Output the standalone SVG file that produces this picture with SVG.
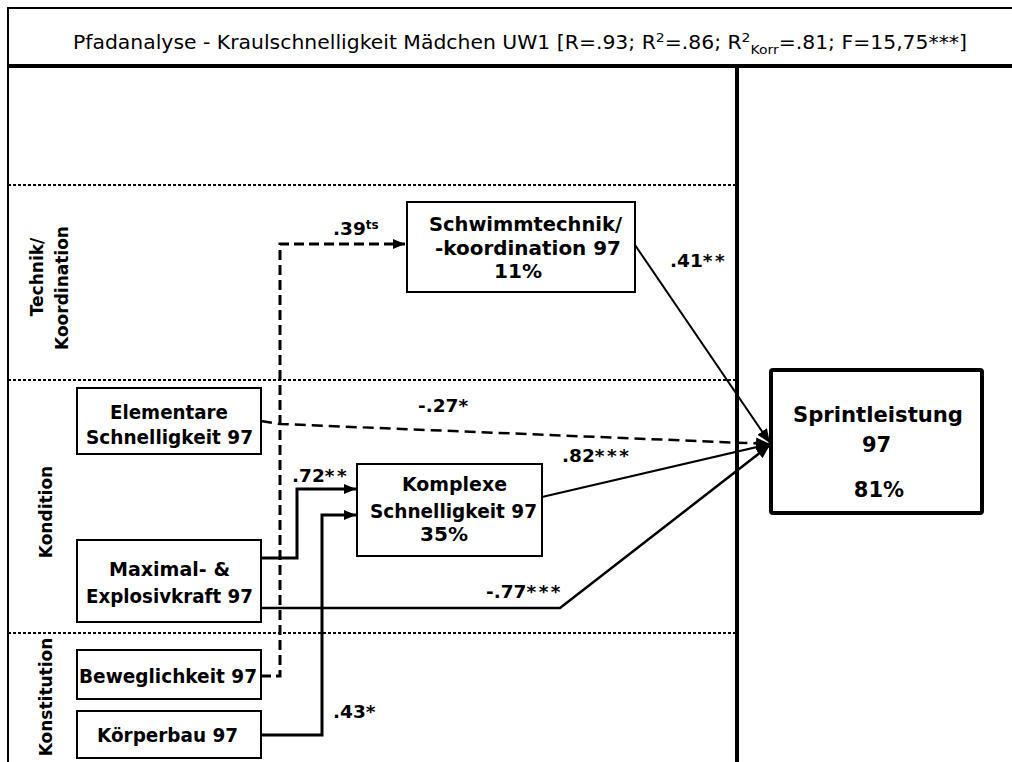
<svg xmlns="http://www.w3.org/2000/svg" width="1012" height="762" viewBox="0 0 1012 762">
<defs>
<marker id="ah" viewBox="0 0 12 10" refX="12" refY="5" markerWidth="12" markerHeight="10" markerUnits="userSpaceOnUse" orient="auto">
<path d="M0,0 L12,5 L0,10 z" fill="#000"/>
</marker>
<marker id="ahs" viewBox="0 0 12 10" refX="12" refY="5" markerWidth="14" markerHeight="12" markerUnits="userSpaceOnUse" orient="auto">
<path d="M0,0 L12,5 L0,10 z" fill="#000"/>
</marker>
</defs>
<style>
.frame{fill:none;stroke:#000}
.dot{stroke:#000;stroke-width:2;stroke-dasharray:3 2;fill:none}
.box{fill:#fff;stroke:#000;stroke-width:2}
.nt{font-family:"DejaVu Sans",Verdana,sans-serif;font-weight:bold;font-size:19.5px;fill:#000;text-anchor:middle}
.lab{font-family:"DejaVu Sans",Verdana,sans-serif;font-weight:bold;font-size:18.5px;fill:#000}
.st{letter-spacing:2.5px}
.vt{font-family:"DejaVu Sans",Verdana,sans-serif;font-weight:bold;font-size:17px;fill:#000;text-anchor:middle}
.c{fill:none;stroke:#000}
</style>
<rect x="0" y="0" width="1012" height="762" fill="#fff"/>
<g id="frame">
<line class="frame" x1="8" y1="8" x2="1012" y2="8" stroke-width="2"/>
<line class="frame" x1="8" y1="7" x2="8" y2="762" stroke-width="2"/>
<line class="frame" x1="8" y1="66" x2="1012" y2="66" stroke-width="4"/>
<line class="frame" x1="737" y1="66" x2="737" y2="762" stroke-width="4"/>
<line class="dot" x1="8" y1="185" x2="735" y2="185"/>
<line class="dot" x1="8" y1="380" x2="735" y2="380"/>
<line class="dot" x1="8" y1="633" x2="735" y2="633"/>
<text x="73" y="49" textLength="894" lengthAdjust="spacingAndGlyphs" font-family="DejaVu Sans,Verdana,sans-serif" font-size="19" fill="#000">Pfadanalyse - Kraulschnelligkeit Mädchen UW1 [R=.93; R<tspan font-size="13" dy="-7">2</tspan><tspan dy="7">=.86; R</tspan><tspan font-size="13" dy="-7">2</tspan><tspan font-size="13" dy="12">Korr</tspan><tspan dy="-5">=.81; F=15,75***]</tspan></text>
</g>
<g id="section-labels">
<text class="vt" transform="translate(43,277) rotate(-90)">Technik/</text>
<text class="vt" transform="translate(68,288) rotate(-90)">Koordination</text>
<text class="vt" transform="translate(52,512) rotate(-90)">Kondition</text>
<text class="vt" transform="translate(52,697) rotate(-90)">Konstitution</text>
</g>
<g id="connectors">
<polyline class="c" points="261,676 280,676 280,244 405,244" stroke-width="3" stroke-dasharray="10 5" marker-end="url(#ah)"/>
<line class="c" x1="635" y1="245" x2="770" y2="443" stroke-width="2" marker-end="url(#ahs)"/>
<polyline class="c" points="261,421 280,424 770,444" stroke-width="2.5" stroke-dasharray="11 6" marker-end="url(#ahs)"/>
<polyline class="c" points="261,558 297,558 297,489 356,489" stroke-width="3" marker-end="url(#ah)"/>
<polyline class="c" points="261,735 322,735 322,515 356,515" stroke-width="3" marker-end="url(#ah)"/>
<line class="c" x1="542" y1="497" x2="770" y2="444" stroke-width="2" marker-end="url(#ahs)"/>
<polyline class="c" points="261,608 560,608 770,445" stroke-width="2.5" marker-end="url(#ahs)"/>
<text class="lab" x="333" y="235">.39<tspan font-size="12" dy="-6">ts</tspan></text>
<text class="lab" x="670" y="267">.41<tspan class="st">**</tspan></text>
<text class="lab" x="418" y="412">-.27*</text>
<text class="lab" x="292" y="482">.72<tspan class="st">**</tspan></text>
<text class="lab" x="562" y="462">.82<tspan class="st">***</tspan></text>
<text class="lab" x="486" y="598">-.77<tspan class="st">***</tspan></text>
<text class="lab" x="333" y="718">.43*</text>
</g>
<g id="node-schwimmtechnik">
<rect class="box" x="407" y="202" width="228" height="90"/>
<text class="nt" x="525.5" y="231" textLength="193" lengthAdjust="spacingAndGlyphs">Schwimmtechnik/</text>
<text class="nt" x="528" y="255" textLength="186" lengthAdjust="spacingAndGlyphs">-koordination 97</text>
<text class="nt" x="518" y="278" textLength="48" lengthAdjust="spacingAndGlyphs">11%</text>
</g>
<g id="node-elementare">
<rect class="box" x="77" y="388" width="184" height="66"/>
<text class="nt" x="169" y="419" textLength="118" lengthAdjust="spacingAndGlyphs">Elementare</text>
<text class="nt" x="169.5" y="444" textLength="167" lengthAdjust="spacingAndGlyphs">Schnelligkeit 97</text>
</g>
<g id="node-komplexe">
<rect class="box" x="357" y="464" width="185" height="92"/>
<text class="nt" x="454.5" y="491" textLength="105" lengthAdjust="spacingAndGlyphs">Komplexe</text>
<text class="nt" x="453.5" y="518" textLength="167" lengthAdjust="spacingAndGlyphs">Schnelligkeit 97</text>
<text class="nt" x="444" y="541" textLength="48" lengthAdjust="spacingAndGlyphs">35%</text>
</g>
<g id="node-maximal">
<rect class="box" x="77" y="540" width="184" height="82"/>
<text class="nt" x="169.5" y="576" textLength="121" lengthAdjust="spacingAndGlyphs">Maximal- &amp;</text>
<text class="nt" x="169.5" y="603" textLength="167" lengthAdjust="spacingAndGlyphs">Explosivkraft 97</text>
</g>
<g id="node-beweglichkeit">
<rect class="box" x="77" y="650" width="184" height="49"/>
<text class="nt" x="168" y="683" textLength="178" lengthAdjust="spacingAndGlyphs">Beweglichkeit 97</text>
</g>
<g id="node-koerperbau">
<rect class="box" x="77" y="711" width="184" height="47"/>
<text class="nt" x="167.5" y="742" textLength="141" lengthAdjust="spacingAndGlyphs">Körperbau 97</text>
</g>
<g id="node-sprintleistung">
<rect x="771" y="370" width="211" height="143" fill="#fff" stroke="#000" stroke-width="4" rx="2"/>
<text class="nt" x="878" y="422" style="font-size:21px" textLength="170" lengthAdjust="spacingAndGlyphs">Sprintleistung</text>
<text class="nt" x="876.5" y="452" style="font-size:21px">97</text>
<text class="nt" x="879" y="497" style="font-size:21px">81%</text>
</g>
</svg>
